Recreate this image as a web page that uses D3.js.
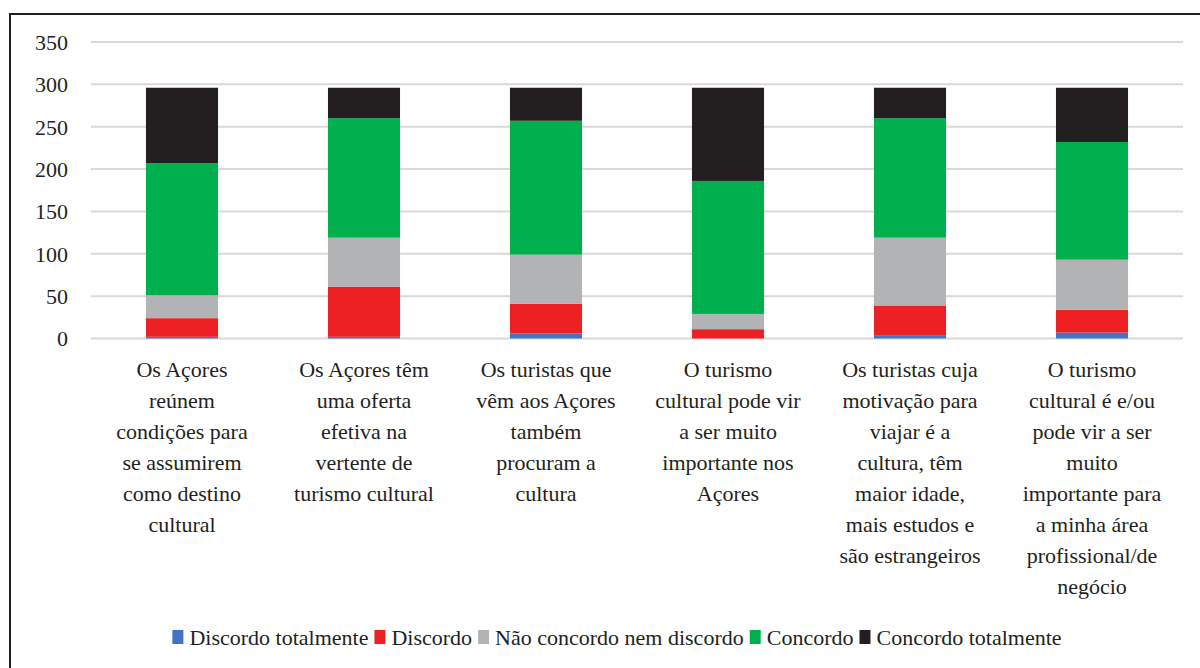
<!doctype html>
<html>
<head>
  <meta charset="utf-8">
</head>
<body style="margin:0">
<script src="https://d3js.org/d3.v7.min.js"></script>
<script>
var width = 1200,
    height = 668;

var FONT = "'Times New Roman', 'Liberation Serif', Tinos, serif";

// categories (line breaks as in the original chart)
var categories = [
  "Os Açores\nreúnem\ncondições para\nse assumirem\ncomo destino\ncultural",
  "Os Açores têm\numa oferta\nefetiva na\nvertente de\nturismo cultural",
  "Os turistas que\nvêm aos Açores\ntambém\nprocuram a\ncultura",
  "O turismo\ncultural pode vir\na ser muito\nimportante nos\nAçores",
  "Os turistas cuja\nmotivação para\nviajar é a\ncultura, têm\nmaior idade,\nmais estudos e\nsão estrangeiros",
  "O turismo\ncultural é e/ou\npode vir a ser\nmuito\nimportante para\na minha área\nprofissional/de\nnegócio"
];

var seriesNames = ["Discordo totalmente", "Discordo", "Não concordo nem discordo", "Concordo", "Concordo totalmente"];
var seriesColors = ["#4472c4", "#ed2024", "#b2b3b4", "#00b04f", "#231f20"];

var discordoTotalmente = [2, 2, 6, 0, 4, 7];
var discordo = [22, 59, 35, 11, 35, 27];
var naoConcordoNemDiscordo = [27, 58, 58, 18, 80, 59];
var concordo = [156, 141, 158, 157, 141, 139];
var concordoTotalmente = [89, 36, 39, 110, 36, 64];

var yTicks = [0, 50, 100, 150, 200, 250, 300, 350];

var seriesValues = [discordoTotalmente, discordo, naoConcordoNemDiscordo, concordo, concordoTotalmente];
var table = categories.map(function(c, i) {
  var row = { cat: c };
  seriesNames.forEach(function(s, j) { row[s] = seriesValues[j][i]; });
  return row;
});

var svg = d3.select("body").append("svg")
  .attr("width", width)
  .attr("height", height)
  .style("display", "block")
  .attr("font-family", FONT)
  .style("font-family", FONT);

// outer frame (runs off the right and bottom edges)
svg.append("rect")
  .attr("x", 10).attr("y", 14)
  .attr("width", 1210).attr("height", 680)
  .attr("fill", "none")
  .attr("stroke", "#231f20")
  .attr("stroke-width", 2);

var x = d3.scaleBand()
  .domain(categories)
  .range([91, 1183])
  .paddingInner(0.604)
  .paddingOuter(0.302);

var y = d3.scaleLinear()
  .domain([0, 350])
  .range([338.5, 42]);

// gridlines
svg.append("g")
  .selectAll("line")
  .data(yTicks)
  .enter().append("line")
  .attr("x1", 91).attr("x2", 1183)
  .attr("y1", function(d) { return y(d); })
  .attr("y2", function(d) { return y(d); })
  .attr("stroke", "#d9d9d9")
  .attr("stroke-width", 2);

// y axis labels
var yAxis = d3.axisLeft(y).tickValues(yTicks).tickSize(0).tickPadding(0);
var ya = svg.append("g")
  .attr("transform", "translate(68,0)")
  .call(yAxis)
  .attr("font-family", FONT)
  .attr("font-size", 22);
ya.select(".domain").remove();
ya.selectAll("text")
  .attr("dy", "0.34em")
  .attr("fill", "#231f20")
  .attr("font-family", FONT)
  .style("font-family", FONT)
  .style("font-size", "22px");

// stacked bars
var stack = d3.stack().keys(seriesNames);
var layers = stack(table);

svg.append("g").selectAll("g")
  .data(layers)
  .enter().append("g")
  .attr("fill", function(d, i) { return seriesColors[i]; })
  .selectAll("rect")
  .data(function(d) { return d; })
  .enter().append("rect")
  .attr("x", function(d) { return x(d.data.cat); })
  .attr("width", x.bandwidth())
  .attr("y", function(d) { return y(d[1]); })
  .attr("height", function(d) { return y(d[0]) - y(d[1]); });

// category labels, one text per line
var cat = svg.append("g")
  .selectAll("g")
  .data(categories)
  .enter().append("g")
  .attr("transform", function(d) { return "translate(" + (x(d) + x.bandwidth() / 2) + ",377)"; });
cat.selectAll("text")
  .data(function(d) { return d.split("\n"); })
  .enter().append("text")
  .attr("text-anchor", "middle")
  .attr("fill", "#231f20")
  .attr("y", function(d, i) { return i * 31; })
  .attr("font-family", FONT)
  .style("font-family", FONT)
  .style("font-size", "22px")
  .text(function(d) { return d; });

// legend
var legend = svg.append("g");
var items = legend.selectAll("g")
  .data(seriesNames)
  .enter().append("g");
items.append("rect")
  .attr("width", 11).attr("height", 14)
  .attr("y", -15)
  .attr("fill", function(d, i) { return seriesColors[i]; });
items.append("text")
  .attr("x", 17)
  .attr("fill", "#231f20")
  .attr("font-family", FONT)
  .style("font-family", FONT)
  .style("font-size", "22px")
  .text(function(d) { return d; });

var lx = 0;
items.each(function() {
  var w = d3.select(this).select("text").node().getComputedTextLength();
  d3.select(this).attr("transform", "translate(" + lx + ",0)");
  lx += 17 + w + 6;
});
lx -= 6;
legend.attr("transform", "translate(" + (617 - lx / 2) + ",645)");
</script>
</body>
</html>
